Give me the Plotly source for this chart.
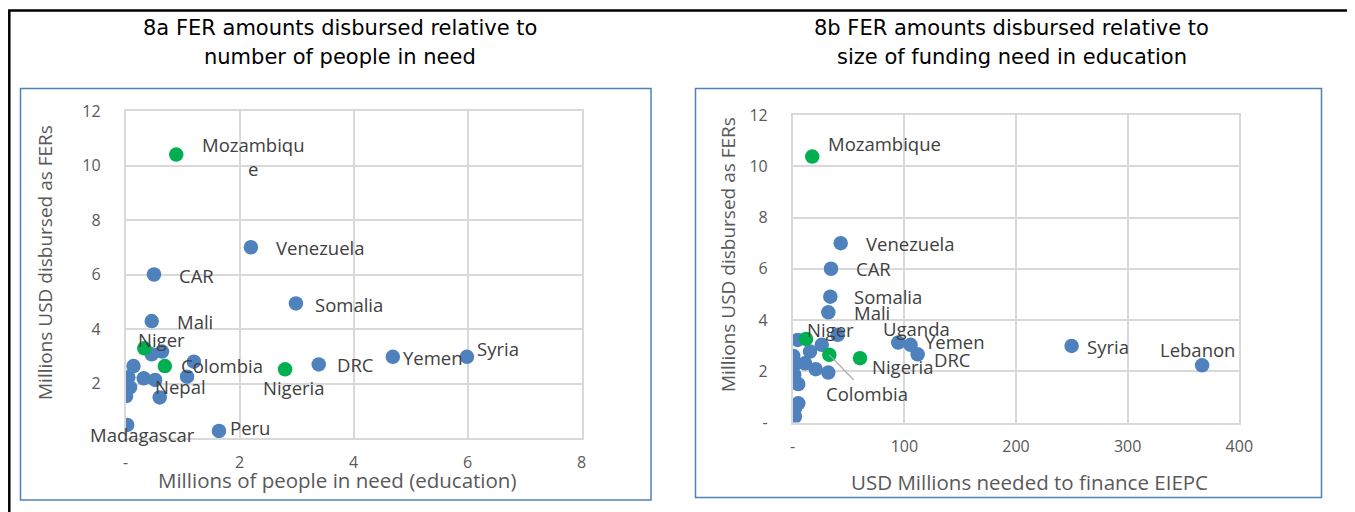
import plotly.graph_objects as go

W, H = 1355, 512
OFF = 8  # page body margin in the browser: figure starts 8 px right/down

# ---------------- data: panel 8a (people in need) ----------------
a_country = ["Mozambique", "Venezuela", "CAR", "Somalia", "Mali", "Niger", "", "",
             "Colombia", "", "", "Nigeria", "DRC", "", "", "", "Nepal", "", "", "",
             "Madagascar", "Peru", "Yemen", "Syria"]
a_people = [0.89, 2.2, 0.5, 2.99, 0.46, 0.33, 0.46, 0.64,
            0.69, 1.2, 1.08, 2.8, 3.39, 0.14, 0.05, 0.32, 0.52, 0.08, 0.01, 0.6,
            0.03, 1.64, 4.69, 5.99]
a_fer = [10.4, 7.0, 6.0, 4.94, 4.29, 3.29, 3.07, 3.17,
         2.64, 2.8, 2.25, 2.52, 2.7, 2.64, 2.23, 2.19, 2.13, 1.86, 1.54, 1.49,
         0.48, 0.26, 2.98, 2.98]
a_focus = [1, 0, 0, 0, 0, 1, 0, 0,
           1, 0, 0, 1, 0, 0, 0, 0, 0, 0, 0, 0,
           0, 0, 0, 0]

# ---------------- data: panel 8b (funding need) ----------------
b_country = ["Mozambique", "Venezuela", "CAR", "Somalia", "Mali", "Niger", "", "", "", "",
             "Colombia", "Nigeria", "Uganda", "Yemen", "DRC", "", "", "", "", "", "", "",
             "", "", "", "Syria", "Lebanon"]
b_need = [17.5, 43, 34.3, 33.7, 31.9, 11.9, 4.5, 40.3, 26, 15.5,
          32.8, 60.3, 94.5, 105.6, 111.9, 0.5, 1.4, 11, 20.6, 31.9, 1.4, 5,
          5, 2, 2, 249.8, 366.7]
b_fer = [10.38, 7.0, 6.0, 4.91, 4.3, 3.26, 3.22, 3.42, 3.03, 2.77,
         2.64, 2.51, 3.12, 3.03, 2.66, 2.6, 2.25, 2.31, 2.08, 1.95, 1.86, 1.5,
         0.75, 0.55, 0.23, 2.99, 2.23]
b_focus = [1, 0, 0, 0, 0, 1, 0, 0, 0, 0,
           1, 1, 0, 0, 0, 0, 0, 0, 0, 0, 0, 0,
           0, 0, 0, 0, 0]

a_xticks = [0, 2, 4, 6, 8]
a_xlabels = ["-", "2", "4", "6", "8"]
b_xticks = [0, 100, 200, 300, 400]
b_xlabels = ["-", "100", "200", "300", "400"]
yticks = [0, 2, 4, 6, 8, 10, 12]
a_ylabels = ["", "2", "4", "6", "8", "10", "12"]   # zero label hidden under "Madagascar"
b_ylabels = ["-", "2", "4", "6", "8", "10", "12"]

title_a = ["8a FER amounts disbursed relative to", "number of people in need"]
title_b = ["8b FER amounts disbursed relative to", "size of funding need in education"]
ytitle = "Millions USD disbursed as FERs"
xtitle_a = "Millions of people in need (education)"
xtitle_b = "USD Millions needed to finance EIEPC"

# ---------------- styling / label placement (pixels) ----------------
BLUE = "#4F81BD"
GREEN = "#00B050"
GRID = "#D9D9D9"
TXT = "#404040"
TICK = "#595959"
LABEL_FONT = "Open Sans"
LABEL_SIZE = 18.5

# (anchor, dx, dy) relative to point centre, dy positive downward
a_off = {
    "Mozambique": ("left", 24, 2), "Venezuela": ("left", 23, 0), "CAR": ("left", 23, 1),
    "Somalia": ("left", 17, 1), "Mali": ("left", 23, 0), "Niger": ("center", 17, -9),
    "Colombia": ("left", 14, -1), "Nepal": ("left", -2, 7), "Nigeria": ("center", 9, 18),
    "DRC": ("left", 16, 0), "Yemen": ("left", 8, 1), "Syria": ("left", 8, -8),
    "Madagascar": ("center", 15, 10), "Peru": ("left", 9, -3),
}
b_off = {
    "Mozambique": ("left", 14, -13), "Venezuela": ("left", 23, 0), "CAR": ("left", 23, 0),
    "Somalia": ("left", 22, 0), "Mali": ("left", 24, 0), "Niger": ("center", 25, -9),
    "Uganda": ("center", 18, -14), "Yemen": ("left", 12, -3), "DRC": ("left", 14, 5),
    "Nigeria": ("left", 10, 8), "Syria": ("left", 13, 1), "Lebanon": ("center", -5, -16),
}


def fx(px):
    return (px - OFF) / W


def fy(py):
    return 1 - (py - OFF) / H


# plot-area pixel boxes (screen pixels)
A_BOX = (125.5, 581.5, 111, 438)   # left, right, top, bottom
B_BOX = (792.7, 1239.3, 115, 422.5)

fig = go.Figure()

for xs, ys, foc, xa, ya in [(a_people, a_fer, a_focus, "x", "y"),
                            (b_need, b_fer, b_focus, "x2", "y2")]:
    for flag, col in [(0, BLUE), (1, GREEN)]:
        fig.add_trace(go.Scatter(
            x=[v for v, f in zip(xs, foc) if f == flag],
            y=[v for v, f in zip(ys, foc) if f == flag],
            mode="markers", xaxis=xa, yaxis=ya, showlegend=False,
            marker=dict(size=14.5, color=col, line=dict(width=0)),
            hoverinfo="skip"))

annotations = []


def add_labels(names, xs, ys, offs, xref, yref, wrap=None):
    for n, xv, yv in zip(names, xs, ys):
        if not n or n not in offs:
            continue
        anc, dx, dy = offs[n]
        text = wrap.get(n, n) if wrap else n
        annotations.append(dict(
            x=xv, y=yv, xref=xref, yref=yref, text=text, showarrow=False,
            xanchor=anc, yanchor="middle", xshift=dx, yshift=-dy, align="center",
            font=dict(family=LABEL_FONT, size=LABEL_SIZE, color=TXT)))


add_labels(a_country, a_people, a_fer, a_off, "x", "y",
           wrap={"Mozambique": "Mozambiqu<br>e"})
add_labels(b_country, b_need, b_fer, b_off, "x2", "y2")

# Colombia label with leader line in panel 8b
ci = b_country.index("Colombia")
annotations.append(dict(
    x=b_need[ci], y=b_fer[ci], xref="x2", yref="y2", text="Colombia",
    showarrow=True, arrowhead=0, arrowwidth=1.3, arrowcolor="#A6A6A6",
    ax=38, ay=39, standoff=0,
    font=dict(family=LABEL_FONT, size=LABEL_SIZE, color=TXT)))

# chart titles
TITLE_FONT = dict(family="DejaVu Sans", size=21, color="#000000")
for lines, cx in [(title_a, 340), (title_b, 1012)]:
    for i, ln in enumerate(lines):
        annotations.append(dict(x=fx(cx), y=fy(28 + 29 * i), xref="paper", yref="paper",
                                text=ln, showarrow=False, xanchor="center",
                                yanchor="middle", font=TITLE_FONT))

# axis titles
YT_FONT = dict(family=LABEL_FONT, size=19, color=TICK)
XT_FONT = dict(family=LABEL_FONT, size=20.5, color=TICK)
annotations.append(dict(x=fx(45), y=fy(263), xref="paper", yref="paper", text=ytitle,
                        textangle=-90, showarrow=False, xanchor="center",
                        yanchor="middle", font=YT_FONT))
annotations.append(dict(x=fx(728), y=fy(255), xref="paper", yref="paper", text=ytitle,
                        textangle=-90, showarrow=False, xanchor="center",
                        yanchor="middle", font=YT_FONT))
annotations.append(dict(x=fx(337), y=fy(480), xref="paper", yref="paper", text=xtitle_a,
                        showarrow=False, xanchor="center", yanchor="middle", font=XT_FONT))
annotations.append(dict(x=fx(1029), y=fy(482), xref="paper", yref="paper", text=xtitle_b,
                        showarrow=False, xanchor="center", yanchor="middle", font=XT_FONT))

shapes = [
    dict(type="rect", xref="paper", yref="paper", x0=fx(OFF + 1.3), x1=fx(1351),
         y0=fy(530), y1=fy(10.5), line=dict(color="#000000", width=2.5)),
    dict(type="rect", xref="paper", yref="paper", x0=fx(20.5), x1=fx(651), y0=fy(500),
         y1=fy(88.5), line=dict(color=BLUE, width=1.5)),
    dict(type="rect", xref="paper", yref="paper", x0=fx(695.5), x1=fx(1321.5), y0=fy(497.5),
         y1=fy(88.5), line=dict(color=BLUE, width=1.5)),
]

tickfont = dict(family=LABEL_FONT, size=16, color=TICK)


def xaxis(box, rng, tv, tt, anchor):
    return dict(domain=[fx(box[0]), fx(box[1])], range=rng, tickvals=tv, ticktext=tt,
                showgrid=True, gridcolor=GRID, gridwidth=1.5, zeroline=False,
                showline=True, linecolor=GRID, linewidth=1.5, mirror=True,
                ticks="", ticklabelstandoff=9, tickfont=tickfont, anchor=anchor,
                automargin=False, fixedrange=True)


def yaxis(box, labels, anchor):
    return dict(domain=[fy(box[3]), fy(box[2])], range=[0, 12], tickvals=yticks,
                ticktext=labels, showgrid=True, gridcolor=GRID, gridwidth=1.5,
                zeroline=False, showline=True, linecolor=GRID, linewidth=1.5, mirror=True,
                ticks="", ticklabelstandoff=20, tickfont=tickfont, anchor=anchor,
                automargin=False, fixedrange=True)


fig.update_layout(
    template="none",
    width=W, height=H, margin=dict(l=0, r=0, t=0, b=0, pad=0), autosize=False,
    paper_bgcolor="white", plot_bgcolor="white",
    xaxis=xaxis(A_BOX, [0, 8], a_xticks, a_xlabels, "y"),
    yaxis=yaxis(A_BOX, a_ylabels, "x"),
    xaxis2=xaxis(B_BOX, [0, 400], b_xticks, b_xlabels, "y2"),
    yaxis2=yaxis(B_BOX, b_ylabels, "x2"),
    annotations=annotations, shapes=shapes, showlegend=False,
)

fig.write_html("out.html")
